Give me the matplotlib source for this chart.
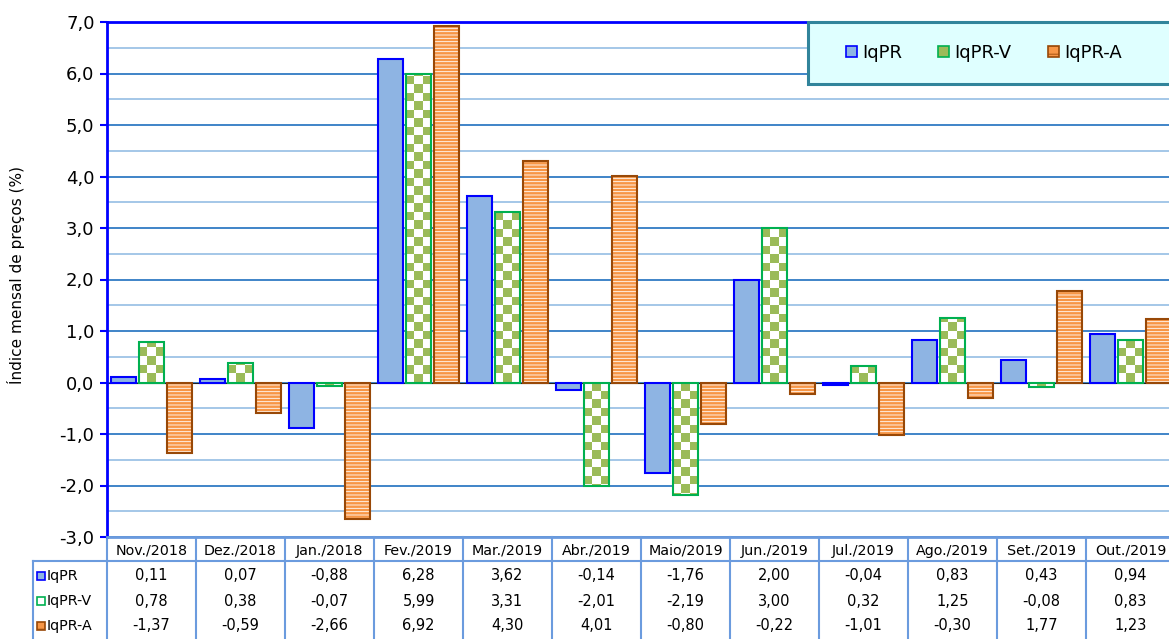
import matplotlib.pyplot as plt
import numpy as np
from matplotlib.patches import Rectangle, Patch
from matplotlib.colors import ListedColormap
from matplotlib.transforms import blended_transform_factory
from matplotlib.ticker import MultipleLocator, FuncFormatter

# Dados
meses = ['Nov./2018', 'Dez./2018', 'Jan./2018', 'Fev./2019', 'Mar./2019', 'Abr./2019',
         'Maio/2019', 'Jun./2019', 'Jul./2019', 'Ago./2019', 'Set./2019', 'Out./2019']
series = ['IqPR', 'IqPR-V', 'IqPR-A']
iqpr = [0.11, 0.07, -0.88, 6.28, 3.62, -0.14, -1.76, 2.00, -0.04, 0.83, 0.43, 0.94]
iqpr_v = [0.78, 0.38, -0.07, 5.99, 3.31, -2.01, -2.19, 3.00, 0.32, 1.25, -0.08, 0.83]
iqpr_a = [-1.37, -0.59, -2.66, 6.92, 4.30, 4.01, -0.80, -0.22, -1.01, -0.30, 1.77, 1.23]

plt.rcParams['font.family'] = ['DejaVu Sans']
plt.rcParams['hatch.linewidth'] = 0.6

W, H = 1169, 639
fig = plt.figure(figsize=(W / 100, H / 100), dpi=100)
# eixo vai um pouco alem da borda direita (como no original, cortado)
ax = fig.add_axes([107 / W, 1 - 537 / H, (1175 - 107) / W, (537 - 22) / H])

x = np.arange(len(meses))
larg = 0.28
desl = 0.315

azul_f, azul_b = '#8EB4E3', '#0000FF'
verde_f, verde_b = '#9BBB59', '#00B050'
lar_f, lar_b = '#F79646', '#984807'

# IqPR
ax.bar(x - desl, iqpr, larg, facecolor=azul_f, edgecolor=azul_b, lw=1.5, zorder=2)

# IqPR-V (xadrez)
barras_v = ax.bar(x, iqpr_v, larg, facecolor='white', edgecolor='none', lw=0, zorder=2)
cx, cy = 0.095, 0.165
cmap_x = ListedColormap(['white', verde_f])
for b, v in zip(barras_v, iqpr_v):
    x0 = b.get_x()
    nx = int(np.ceil(larg / cx))
    ny = max(1, int(np.ceil(abs(v) / cy)))
    pad = (np.add.outer(np.arange(ny), np.arange(nx)) % 2)
    if v >= 0:
        ext = (x0, x0 + nx * cx, 0, ny * cy)
    else:
        pad = pad[::-1]
        ext = (x0, x0 + nx * cx, -ny * cy, 0)
    im = ax.imshow(pad, cmap=cmap_x, extent=ext, origin='lower', aspect='auto',
                   interpolation='nearest', zorder=2.1)
    im.set_clip_path(b)
ax.bar(x, iqpr_v, larg, facecolor='none', edgecolor=verde_b, lw=1.5, zorder=2.2)

# IqPR-A (listrado)
ax.bar(x + desl, iqpr_a, larg, facecolor=lar_f, edgecolor='white', hatch='-----', lw=0, zorder=2)
ax.bar(x + desl, iqpr_a, larg, facecolor='none', edgecolor=lar_b, lw=1.5, zorder=2.2)

ax.axhline(0, color='#222222', lw=0.8, zorder=1.5)

ax.set_xlim(-0.5, len(meses) - 0.5)
ax.set_ylim(-3, 7)
ax.yaxis.set_major_locator(MultipleLocator(1))
ax.yaxis.set_minor_locator(MultipleLocator(0.5))
ax.yaxis.set_major_formatter(FuncFormatter(lambda v, p: f'{v:.1f}'.replace('.', ',')))
ax.set_axisbelow(True)
ax.grid(True, which='major', axis='y', color='#1F70BF', lw=1.2)
ax.grid(True, which='minor', axis='y', color='#9DC3E6', lw=1.3)
ax.set_xticks([])
ax.tick_params(axis='y', which='major', direction='out', length=5, width=1.5, color=azul_b,
               labelsize=13, pad=4)
ax.tick_params(axis='y', which='minor', length=0)
for s in ['left', 'top', 'right']:
    ax.spines[s].set_color(azul_b)
    ax.spines[s].set_linewidth(2)
ax.spines['bottom'].set_color('#6B9BDE')
ax.spines['bottom'].set_linewidth(2)

fig.text(16 / W, 1 - 275 / H, 'Índice mensal de preços (%)', rotation=90, va='center', ha='center',
         fontsize=11)

# Legenda
ax.add_patch(Rectangle((808 / W, 1 - 84 / H), 380 / W, 62 / H, transform=fig.transFigure,
                       facecolor='#DFFFFF', edgecolor='#31849B', lw=2.2, clip_on=False, zorder=4.9))
handles = [Patch(facecolor=azul_f, edgecolor=azul_b, lw=1.2),
           Patch(facecolor=verde_f, edgecolor=verde_b, lw=1.2),
           Patch(facecolor=lar_f, edgecolor=lar_b, lw=1.2, hatch='--')]
leg = ax.legend(handles, series, ncol=3, frameon=False, fontsize=13,
                loc='center left', bbox_to_anchor=(846 / W, 1 - 53 / H),
                bbox_transform=fig.transFigure, handlelength=0.6, handleheight=0.6,
                handletextpad=0.3, columnspacing=2.0, borderpad=0, borderaxespad=0)
leg.set_zorder(5)

# Tabela de dados
tr = blended_transform_factory(ax.transData, fig.transFigure)
fy = lambda py: 1 - py / H
cor_tab = '#6B9BDE'
for i in range(len(meses) + 1):
    ax.plot([i - 0.5, i - 0.5], [fy(537), fy(645)], color=cor_tab, lw=1.5,
            transform=tr, clip_on=False)
ax.plot([33 / W, 1.01], [fy(561), fy(561)], color=cor_tab, lw=1.5,
        transform=fig.transFigure, clip_on=False)
ax.plot([33 / W, 33 / W], [fy(561), fy(645)], color=cor_tab, lw=1.5,
        transform=fig.transFigure, clip_on=False)

for i, m in enumerate(meses):
    ax.text(i, fy(551), m, transform=tr, ha='center', va='center', fontsize=10.3)

linhas_y = [576, 601, 626]
valores = [iqpr, iqpr_v, iqpr_a]
marc = [(azul_f, azul_b, None), ('white', verde_b, None), (lar_f, lar_b, '--')]
for nome, vals, py, (fc, ec, ht) in zip(series, valores, linhas_y, marc):
    ax.add_patch(Rectangle((37 / W, fy(py + 4)), 8 / W, 8 / H, transform=fig.transFigure,
                           facecolor=fc, edgecolor=ec, lw=1.2, hatch=ht, clip_on=False))
    ax.text(47 / W, fy(py), nome, transform=fig.transFigure, ha='left', va='center',
            fontsize=10.3)
    for i, v in enumerate(vals):
        ax.text(i, fy(py), f'{v:.2f}'.replace('.', ','), transform=tr, ha='center',
                va='center', fontsize=10.5)

fig.savefig('out.png', dpi=100)
